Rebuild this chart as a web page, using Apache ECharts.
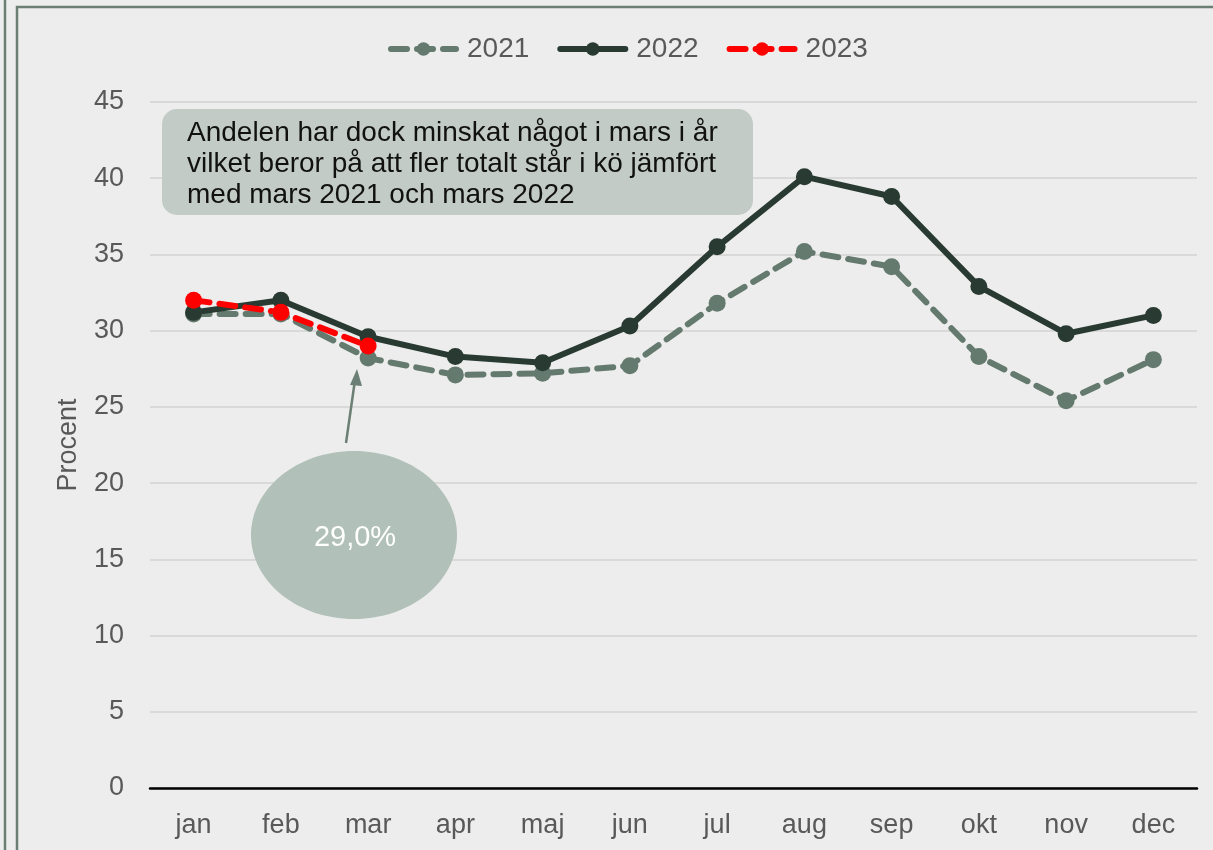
<!DOCTYPE html>
<html>
<head>
<meta charset="utf-8">
<script src="https://cdn.jsdelivr.net/npm/echarts@6/dist/echarts.min.js"></script>
<style>
  html, body { margin: 0; padding: 0; background: #ededed; }
  #chart { width: 1213px; height: 850px; }
</style>
</head>
<body>
<div id="chart"></div>
<script>
var months = ['jan', 'feb', 'mar', 'apr', 'maj', 'jun', 'jul', 'aug', 'sep', 'okt', 'nov', 'dec'];
var data2021 = [31.1, 31.1, 28.2, 27.1, 27.2, 27.7, 31.8, 35.2, 34.2, 28.3, 25.4, 28.1];
var data2022 = [31.2, 32.0, 29.6, 28.3, 27.9, 30.3, 35.5, 40.1, 38.8, 32.9, 29.8, 31.0];
var data2023 = [32.0, 31.2, 29.0];
var yTicks = [0, 5, 10, 15, 20, 25, 30, 35, 40, 45];
var noteText = 'Andelen har dock minskat något i mars i år\nvilket beror på att fler totalt står i kö jämfört\nmed mars 2021 och mars 2022';
var calloutText = '29,0%';

var chart = echarts.init(document.getElementById('chart'));
var font = 'Arial, "Liberation Sans", sans-serif';
var frameColor = '#6b7f74';

function lineSeries(name, data, color, dashed) {
    return {
        name: name,
        type: 'line',
        data: data,
        symbol: 'circle',
        symbolSize: 17,
        showSymbol: true,
        itemStyle: { color: color },
        lineStyle: { color: color, width: 6, type: dashed ? [16, 10] : 'solid', cap: 'round' },
        emphasis: { disabled: true },
        z: 3
    };
}

chart.setOption({
    backgroundColor: '#ededed',
    animation: false,
    textStyle: { fontFamily: font },
    legend: {
        left: 383,
        top: 30,
        itemWidth: 65,
        itemHeight: 17,
        itemGap: 28,
        lineStyle: { width: 6 },
        textStyle: { fontSize: 28, color: '#595959', fontFamily: font, padding: [0, 0, 0, 6] },
        data: ['2021', '2022', '2023']
    },
    grid: { left: 150, right: 16, top: 102, bottom: 62 },
    xAxis: {
        type: 'category',
        data: months,
        boundaryGap: true,
        axisLine: { lineStyle: { color: '#000', width: 2.5 } },
        axisTick: { show: false },
        axisLabel: { fontSize: 27, color: '#595959', margin: 24 }
    },
    yAxis: {
        type: 'value',
        min: yTicks[0],
        max: yTicks[yTicks.length - 1],
        interval: 5,
        name: 'Procent',
        nameLocation: 'middle',
        nameGap: 68,
        nameTextStyle: { fontSize: 27, color: '#595959' },
        axisLine: { show: false },
        axisTick: { show: false },
        axisLabel: { fontSize: 27, color: '#595959', margin: 26 },
        splitLine: { lineStyle: { color: '#d9d9d9', width: 2 } }
    },
    series: [
        lineSeries('2021', data2021, '#657a6e', true),
        lineSeries('2022', data2022, '#283a31', false),
        lineSeries('2023', data2023, '#ff0000', true)
    ],
    graphic: [
        // ram runt diagrammet
        { type: 'line', shape: { x1: 5, y1: 0, x2: 5, y2: 850 }, style: { stroke: frameColor, lineWidth: 2.5 }, silent: true },
        { type: 'rect', shape: { x: 17, y: 7, width: 1220, height: 860 }, style: { fill: 'none', stroke: frameColor, lineWidth: 2.5 }, silent: true },
        // kommentar
        {
            type: 'rect', z: 10,
            shape: { x: 162, y: 109, width: 591, height: 106, r: 15 },
            style: { fill: '#c2cbc5' }
        },
        {
            type: 'text', z: 11, left: 187, top: 118,
            style: { text: noteText, fontSize: 28, lineHeight: 31, fill: '#111', fontFamily: font }
        },
        // pil och ellips
        {
            type: 'line', z: 10,
            shape: { x1: 346, y1: 443, x2: 355, y2: 380 },
            style: { stroke: frameColor, lineWidth: 2.5 }
        },
        {
            type: 'polygon', z: 10,
            shape: { points: [[357, 369], [350, 385], [362, 386]] },
            style: { fill: frameColor }
        },
        {
            type: 'ellipse', z: 10,
            shape: { cx: 354, cy: 535, rx: 103, ry: 84 },
            style: { fill: '#b1c0b8' }
        },
        {
            type: 'text', z: 11, x: 355, y: 538,
            style: { text: calloutText, fontSize: 29, fill: '#fff', align: 'center', verticalAlign: 'middle', fontFamily: font }
        }
    ]
});
</script>
</body>
</html>
